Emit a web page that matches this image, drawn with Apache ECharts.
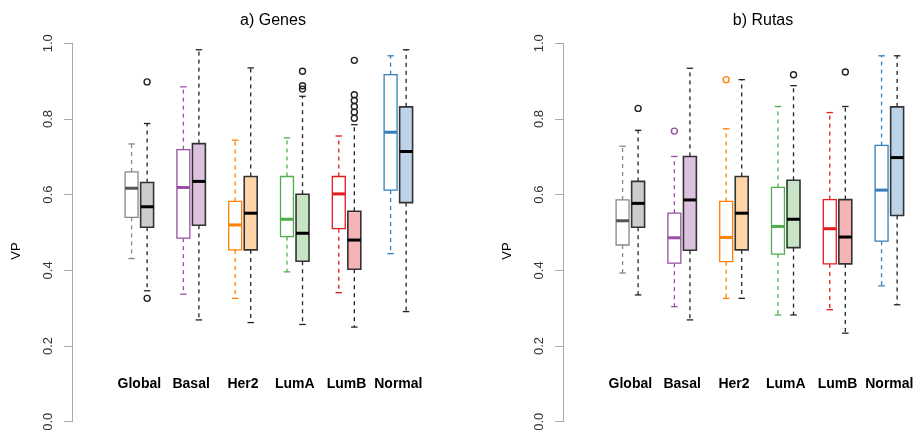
<!DOCTYPE html>
<html>
<head>
<meta charset="utf-8">
<script src="https://cdn.jsdelivr.net/npm/echarts@6/dist/echarts.min.js"></script>
<style>
  html, body { margin: 0; padding: 0; background: #fff; }
  #chart { width: 913px; height: 430px; }
</style>
</head>
<body>
<div id="chart"></div>
<script>
var groups = ["Global", "Basal", "Her2", "LumA", "LumB", "Normal"];
var lineColors = ["#888888", "#984EA3", "#FF7F00", "#4DAF4A", "#E41A1C", "#377EB8"];
var fillColors = ["#cccccc", "#dcc2de", "#ffd4a8", "#c7e4c5", "#f5b4b5", "#bcd3e8"];
var yTicks = [0, 0.2, 0.4, 0.6, 0.8, 1.0];

// [lower whisker, Q1, median, Q3, upper whisker]
var genesWhite = [
  [0.431, 0.540, 0.617, 0.660, 0.734],
  [0.337, 0.485, 0.619, 0.719, 0.885],
  [0.326, 0.454, 0.520, 0.582, 0.744],
  [0.396, 0.489, 0.535, 0.648, 0.750],
  [0.341, 0.510, 0.602, 0.648, 0.755],
  [0.444, 0.612, 0.765, 0.917, 0.967]
];
var genesFilled = [
  [0.346, 0.514, 0.568, 0.632, 0.788],
  [0.269, 0.519, 0.635, 0.735, 0.983],
  [0.262, 0.454, 0.551, 0.648, 0.935],
  [0.257, 0.424, 0.498, 0.601, 0.860],
  [0.250, 0.403, 0.480, 0.556, 0.785],
  [0.291, 0.579, 0.714, 0.832, 0.983]
];
var genesWhiteOut = [[], [], [], [], [], []];
var genesFilledOut = [[0.898, 0.326], [], [], [0.926, 0.888, 0.879], [0.955, 0.864, 0.849, 0.833, 0.818, 0.802], []];

var rutasWhite = [
  [0.393, 0.467, 0.531, 0.586, 0.728],
  [0.304, 0.419, 0.486, 0.551, 0.701],
  [0.326, 0.423, 0.487, 0.582, 0.774],
  [0.282, 0.443, 0.516, 0.619, 0.833],
  [0.296, 0.417, 0.510, 0.587, 0.817],
  [0.359, 0.477, 0.612, 0.730, 0.967]
];
var rutasFilled = [
  [0.335, 0.514, 0.577, 0.635, 0.770],
  [0.269, 0.453, 0.586, 0.701, 0.934],
  [0.326, 0.454, 0.551, 0.648, 0.904],
  [0.282, 0.460, 0.535, 0.638, 0.888],
  [0.234, 0.417, 0.488, 0.587, 0.833],
  [0.309, 0.545, 0.698, 0.832, 0.967]
];
var rutasWhiteOut = [[], [0.768], [0.904], [], [], []];
var rutasFilledOut = [[0.828], [], [], [0.917], [0.924], []];

var chart = echarts.init(document.getElementById("chart"));

function boxData(white, filled) {
  var d = [];
  groups.forEach(function (g, i) {
    d.push([i + 1 - 0.15].concat(white[i], [i, 0]));
    d.push([i + 1 + 0.15].concat(filled[i], [i, 1]));
  });
  return d;
}
function outData(white, filled) {
  var d = [];
  groups.forEach(function (g, i) {
    white[i].forEach(function (v) { d.push([i + 1 - 0.15, v, i, 0]); });
    filled[i].forEach(function (v) { d.push([i + 1 + 0.15, v, i, 1]); });
  });
  return d;
}

function renderBox(params, api) {
  var x = api.value(0);
  var lo = api.coord([x, api.value(1)]);
  var q1 = api.coord([x, api.value(2)]);
  var md = api.coord([x, api.value(3)]);
  var q3 = api.coord([x, api.value(4)]);
  var hi = api.coord([x, api.value(5)]);
  var k = api.value(6);
  var filled = api.value(7) === 1;
  var w = api.size([0.25, 0])[0];
  var cx = lo[0];
  var border = filled ? "#333333" : lineColors[k];
  var med = filled ? "#000000" : (k === 0 ? "#555555" : lineColors[k]);
  var whisk = filled ? "#222222" : lineColors[k];
  var dash = { stroke: whisk, lineWidth: 1.3, lineDash: [4, 4] };
  var cap = { stroke: whisk, lineWidth: 1.3 };
  return {
    type: "group",
    children: [
      { type: "line", shape: { x1: cx, y1: q1[1], x2: cx, y2: lo[1] }, style: dash },
      { type: "line", shape: { x1: cx, y1: q3[1], x2: cx, y2: hi[1] }, style: dash },
      { type: "line", shape: { x1: cx - w / 4, y1: lo[1], x2: cx + w / 4, y2: lo[1] }, style: cap },
      { type: "line", shape: { x1: cx - w / 4, y1: hi[1], x2: cx + w / 4, y2: hi[1] }, style: cap },
      { type: "rect", shape: { x: cx - w / 2, y: q3[1], width: w, height: q1[1] - q3[1] },
        style: { fill: filled ? fillColors[k] : "#ffffff", stroke: border, lineWidth: filled ? 1.6 : 1.3 } },
      { type: "line", shape: { x1: cx - w / 2, y1: md[1], x2: cx + w / 2, y2: md[1] },
        style: { stroke: med, lineWidth: 3 } }
    ]
  };
}

function renderOut(params, api) {
  var p = api.coord([api.value(0), api.value(1)]);
  var k = api.value(2);
  var filled = api.value(3) === 1;
  return {
    type: "circle",
    shape: { cx: p[0], cy: p[1], r: 3 },
    style: { fill: "none", stroke: filled ? "#222222" : lineColors[k], lineWidth: 1.4 }
  };
}

function renderLabel(params, api) {
  var p = api.coord([api.value(0), api.value(1)]);
  return {
    type: "text",
    x: p[0], y: p[1],
    style: {
      text: groups[params.dataIndex],
      fill: "#000", font: "bold 14px 'Liberation Sans', Arial, sans-serif",
      align: "center", verticalAlign: "middle"
    }
  };
}

var labelData = groups.map(function (g, i) { return [i + 1, 0.1]; });

function yAxisFor(idx) {
  return {
    gridIndex: idx, type: "value", min: 0, max: 1, interval: 0.2,
    axisLine: { show: true, onZero: false, lineStyle: { color: "#aaaaaa", width: 1 } },
    axisTick: { show: true, length: 8, lineStyle: { color: "#aaaaaa" } },
    splitLine: { show: false },
    axisLabel: {
      rotate: 90, margin: 17, color: "#333",
      fontFamily: "'Liberation Sans', Arial, sans-serif", fontSize: 13,
      formatter: function (v) { return v.toFixed(1); }
    }
  };
}
function xAxisFor(idx) {
  return {
    gridIndex: idx, type: "value", min: -0.3, max: 6.36,
    axisLine: { show: false, onZero: false }, axisTick: { show: false },
    axisLabel: { show: false }, splitLine: { show: false }
  };
}

var option = {
  animation: false,
  title: [
    { text: "a) Genes", left: 268, top: 8, textAlign: "center",
      textStyle: { fontWeight: "normal", fontSize: 16, color: "#000", fontFamily: "'Liberation Sans', Arial, sans-serif" } },
    { text: "b) Rutas", left: 758, top: 8, textAlign: "center",
      textStyle: { fontWeight: "normal", fontSize: 16, color: "#000", fontFamily: "'Liberation Sans', Arial, sans-serif" } }
  ],
  grid: [
    { left: 72, top: 43.3, width: 345, height: 378.4, containLabel: false, outerBoundsMode: "none" },
    { left: 563, top: 43.3, width: 345, height: 378.4, containLabel: false, outerBoundsMode: "none" }
  ],
  xAxis: [xAxisFor(0), xAxisFor(1)],
  yAxis: [yAxisFor(0), yAxisFor(1)],
  graphic: [
    { type: "text", x: 16, y: 251, rotation: Math.PI / 2,
      style: { text: "VP", fill: "#000", font: "13px 'Liberation Sans', Arial, sans-serif", align: "center", verticalAlign: "middle" } },
    { type: "text", x: 507, y: 251, rotation: Math.PI / 2,
      style: { text: "VP", fill: "#000", font: "13px 'Liberation Sans', Arial, sans-serif", align: "center", verticalAlign: "middle" } }
  ],
  series: [
    { type: "custom", xAxisIndex: 0, yAxisIndex: 0, renderItem: renderBox, data: boxData(genesWhite, genesFilled) },
    { type: "custom", xAxisIndex: 0, yAxisIndex: 0, renderItem: renderOut, data: outData(genesWhiteOut, genesFilledOut) },
    { type: "custom", xAxisIndex: 0, yAxisIndex: 0, renderItem: renderLabel, data: labelData },
    { type: "custom", xAxisIndex: 1, yAxisIndex: 1, renderItem: renderBox, data: boxData(rutasWhite, rutasFilled) },
    { type: "custom", xAxisIndex: 1, yAxisIndex: 1, renderItem: renderOut, data: outData(rutasWhiteOut, rutasFilledOut) },
    { type: "custom", xAxisIndex: 1, yAxisIndex: 1, renderItem: renderLabel, data: labelData }
  ]
};
chart.setOption(option);
window.addEventListener("resize", function () { chart.resize(); });
</script>
</body>
</html>
